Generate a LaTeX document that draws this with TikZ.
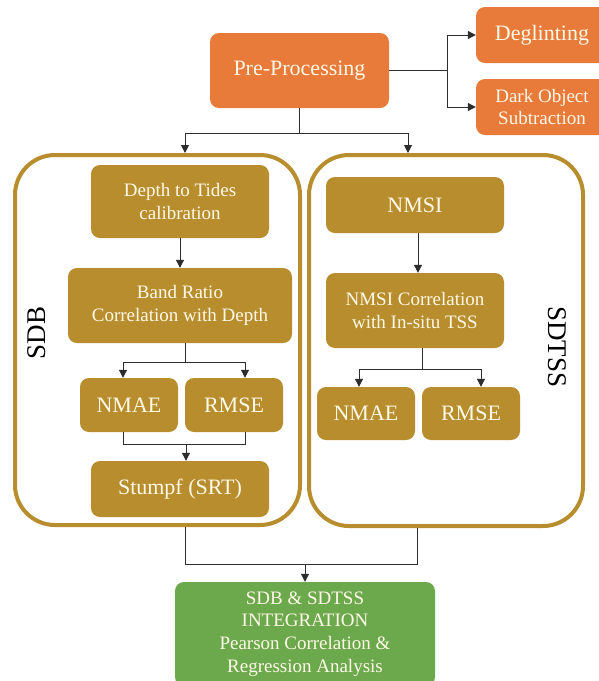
\documentclass[tikz,border=0pt]{standalone}
\usepackage{fontspec}
\setmainfont{Liberation Serif}
\usetikzlibrary{arrows.meta,calc}
\definecolor{orng}{RGB}{232,122,58}
\definecolor{gold}{RGB}{184,141,46}
\definecolor{grn}{RGB}{108,168,76}
\definecolor{cream}{RGB}{255,249,232}
\definecolor{lin}{RGB}{45,45,45}
\tikzset{
  basebox/.style={rectangle, rounded corners=9pt, text=cream, align=center, inner sep=0pt},
  obox/.style={basebox, fill=orng},
  gbox/.style={basebox, fill=gold},
  grbox/.style={basebox, fill=grn},
  bigbox/.style={rectangle, rounded corners=40pt, draw=gold, line width=4pt, inner sep=0pt},
  conn/.style={draw=lin, line width=1pt},
  arr/.style={conn, -{Triangle[length=8pt,width=8pt]}},
  fbig/.style={font=\rmfamily\fontsize{22}{26}\selectfont},
  fmid/.style={font=\rmfamily\fontsize{19}{22.7}\selectfont},
  flab/.style={font=\rmfamily\fontsize{27}{30}\selectfont, text=black}
}
\begin{document}
\begin{tikzpicture}[x=1pt,y=-1pt]
\fill[white] (0,0) rectangle (599,681);
\useasboundingbox (0,0) rectangle (599,681);
\clip (0,0) rectangle (599,681);

% top
\node[obox, fbig, minimum width=179pt, minimum height=75pt] (pre) at (299.5,70.5) {Pre-Processing};
\node[obox, fbig, minimum width=132pt, minimum height=56pt] (degl) at (542,35) {Deglinting};
\node[obox, fmid, minimum width=132pt, minimum height=56pt] (dark) at (542,107) {Dark Object\\Subtraction};

% big containers
\node[bigbox, minimum width=285pt, minimum height=370pt] (sdb) at (157.5,340) {};
\node[bigbox, minimum width=274pt, minimum height=371pt] (sdtss) at (446,340.5) {};
\node[flab, rotate=90] (lsdb) at (37,333) {SDB};
\node[flab, rotate=-90] (lsdtss) at (557,347) {SDTSS};

% SDB column
\node[gbox, fmid, minimum width=178pt, minimum height=73pt] (depth) at (180,201.5) {Depth to Tides\\calibration};
\node[gbox, fmid, minimum width=224pt, minimum height=75pt] (band) at (180,305.5) {Band Ratio\\Correlation with Depth};
\node[gbox, fbig, minimum width=98pt, minimum height=54pt] (nmae1) at (129,405) {NMAE};
\node[gbox, fbig, minimum width=98pt, minimum height=54pt] (rmse1) at (234,405) {RMSE};
\node[gbox, fbig, minimum width=178pt, minimum height=56pt] (stumpf) at (180,489) {Stumpf (SRT)};

% SDTSS column
\node[gbox, fbig, minimum width=178pt, minimum height=56pt] (nmsi) at (415,205) {NMSI};
\node[gbox, fmid, minimum width=178pt, minimum height=75pt] (nmsicorr) at (415,310.5) {NMSI Correlation\\with In-situ TSS};
\node[gbox, fbig, minimum width=98pt, minimum height=53pt] (nmae2) at (366,413.5) {NMAE};
\node[gbox, fbig, minimum width=98pt, minimum height=53pt] (rmse2) at (471,413.5) {RMSE};

% integration
\node[grbox, fmid, minimum width=260pt, minimum height=104pt] (green) at (305,634) {SDB \& SDTSS\\INTEGRATION\\Pearson Correlation \&\\Regression Analysis};

% connectors: pre-processing
\draw[arr] (pre.east) -- ++(58,0) |- (degl.west);
\draw[arr] (pre.east) -- ++(58,0) |- (dark.west);
\coordinate (j1) at (185,133);
\coordinate (j2) at (408,133);
\draw[arr] (pre.south) |- (j1) -- (j1 |- sdb.north);
\draw[arr] (pre.south) |- (j2) -- (j2 |- sdtss.north);

% SDB connectors
\draw[arr] (depth.south) -- (band.north);
\coordinate (b1) at (185,362);
\coordinate (bl) at (123,362);
\coordinate (br) at (245,362);
\draw[conn] (band.south -| b1) -- (b1);
\draw[arr] (b1) -- (bl) -- (bl |- nmae1.north);
\draw[arr] (b1) -- (br) -- (br |- rmse1.north);
\coordinate (ml) at (123,444);
\coordinate (mr) at (245,444);
\coordinate (mc) at (186,444);
\draw[conn] (ml |- nmae1.south) -- (ml) -- (mr) -- (mr |- rmse1.south);
\draw[arr] (mc) -- (mc |- stumpf.north);

% SDTSS connectors
\coordinate (n1) at (418,0);
\draw[arr] (nmsi.south -| n1) -- (nmsicorr.north -| n1);
\coordinate (c1) at (422,369);
\coordinate (cl) at (359,369);
\coordinate (cr) at (481,369);
\draw[conn] (nmsicorr.south -| c1) -- (c1);
\draw[arr] (c1) -- (cl) -- (cl |- nmae2.north);
\draw[arr] (c1) -- (cr) -- (cr |- rmse2.north);

% bottom
\coordinate (dl) at (185,564);
\coordinate (dr) at (417,564);
\coordinate (dc) at (305,564);
\draw[conn] (dl |- sdb.south) -- (dl) -- (dr) -- (dr |- sdtss.south);
\draw[arr] (dc) -- (green.north -| dc);
\end{tikzpicture}
\end{document}
